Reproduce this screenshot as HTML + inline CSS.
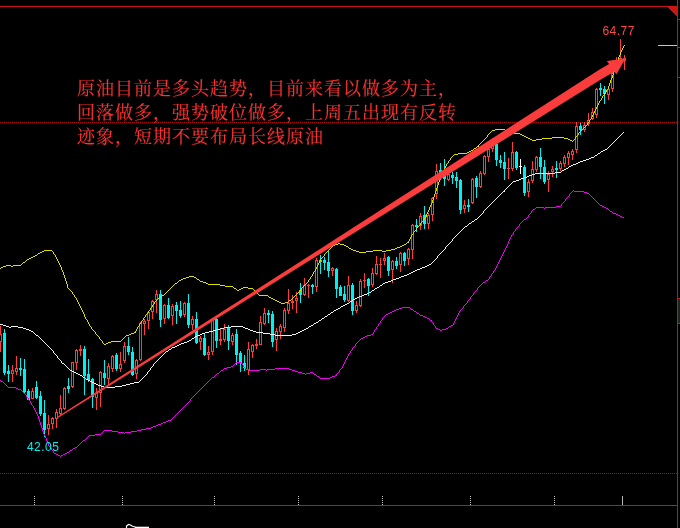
<!DOCTYPE html>
<html lang="zh-CN">
<head>
<meta charset="utf-8">
<title>原油走势</title>
<style>
html,body{margin:0;padding:0;background:#000;}
body{width:680px;height:528px;overflow:hidden;position:relative;}
svg{position:absolute;left:0;top:0;display:block;}
.note{position:absolute;left:77px;top:77px;margin:0;color:#ff3030;
  font-family:"Liberation Serif","Noto Serif CJK SC",serif;font-size:18px;line-height:24px;
  letter-spacing:1px;white-space:nowrap;font-weight:400;-webkit-text-stroke:0.15px #ff3030;}
.lbl{position:absolute;margin:0;font-family:"Liberation Sans",sans-serif;font-size:12px;line-height:12px;white-space:nowrap;letter-spacing:0.45px;}
</style>
</head>
<body>
<svg width="680" height="528" viewBox="0 0 680 528">
<rect x="0" y="0" width="680" height="528" fill="#000"/>
<g shape-rendering="crispEdges">
<!-- frame -->
<rect x="0" y="6" width="678" height="1" fill="#cc1410"/>
<rect x="677" y="0" width="1" height="528" fill="#cc1410"/>
<rect x="0" y="505" width="678" height="1" fill="#cc1410"/>
<polygon points="667.5,7 678,7 678,17" fill="#cc1410"/>
<rect x="677" y="19" width="3" height="1" fill="#cc1410"/>
<rect x="677" y="47" width="3" height="1" fill="#cc1410"/>
<rect x="677" y="77" width="3" height="1" fill="#cc1410"/>
<rect x="677" y="298" width="3" height="1" fill="#cc1410"/>
<rect x="677" y="323" width="3" height="1" fill="#cc1410"/>
<rect x="678" y="299" width="2" height="24" fill="#1e2420"/>
<!-- dotted guides -->
<line x1="0" y1="122.5" x2="677" y2="122.5" stroke="#aa0c0c" stroke-width="1" stroke-dasharray="1 1"/>
<line x1="0" y1="473.5" x2="677" y2="473.5" stroke="#aa0c0c" stroke-width="1" stroke-dasharray="1 1"/>
<rect x="658" y="45" width="19" height="1" fill="#dede00"/>
<rect x="34" y="496" width="1" height="1" fill="#c0c0c0"/>
<rect x="34" y="498" width="1" height="1" fill="#c0c0c0"/>
<rect x="34" y="500" width="1" height="1" fill="#c0c0c0"/>
<rect x="34" y="502" width="1" height="1" fill="#c0c0c0"/>
<rect x="34" y="504" width="1" height="1" fill="#c0c0c0"/>
<rect x="122" y="496" width="1" height="1" fill="#c0c0c0"/>
<rect x="122" y="498" width="1" height="1" fill="#c0c0c0"/>
<rect x="122" y="500" width="1" height="1" fill="#c0c0c0"/>
<rect x="122" y="502" width="1" height="1" fill="#c0c0c0"/>
<rect x="122" y="504" width="1" height="1" fill="#c0c0c0"/>
<rect x="214" y="496" width="1" height="1" fill="#c0c0c0"/>
<rect x="214" y="498" width="1" height="1" fill="#c0c0c0"/>
<rect x="214" y="500" width="1" height="1" fill="#c0c0c0"/>
<rect x="214" y="502" width="1" height="1" fill="#c0c0c0"/>
<rect x="214" y="504" width="1" height="1" fill="#c0c0c0"/>
<rect x="298" y="496" width="1" height="1" fill="#c0c0c0"/>
<rect x="298" y="498" width="1" height="1" fill="#c0c0c0"/>
<rect x="298" y="500" width="1" height="1" fill="#c0c0c0"/>
<rect x="298" y="502" width="1" height="1" fill="#c0c0c0"/>
<rect x="298" y="504" width="1" height="1" fill="#c0c0c0"/>
<rect x="382" y="496" width="1" height="1" fill="#c0c0c0"/>
<rect x="382" y="498" width="1" height="1" fill="#c0c0c0"/>
<rect x="382" y="500" width="1" height="1" fill="#c0c0c0"/>
<rect x="382" y="502" width="1" height="1" fill="#c0c0c0"/>
<rect x="382" y="504" width="1" height="1" fill="#c0c0c0"/>
<rect x="470" y="496" width="1" height="1" fill="#c0c0c0"/>
<rect x="470" y="498" width="1" height="1" fill="#c0c0c0"/>
<rect x="470" y="500" width="1" height="1" fill="#c0c0c0"/>
<rect x="470" y="502" width="1" height="1" fill="#c0c0c0"/>
<rect x="470" y="504" width="1" height="1" fill="#c0c0c0"/>
<rect x="554" y="496" width="1" height="1" fill="#c0c0c0"/>
<rect x="554" y="498" width="1" height="1" fill="#c0c0c0"/>
<rect x="554" y="500" width="1" height="1" fill="#c0c0c0"/>
<rect x="554" y="502" width="1" height="1" fill="#c0c0c0"/>
<rect x="554" y="504" width="1" height="1" fill="#c0c0c0"/>
<rect x="622" y="496" width="1" height="9" fill="#b4b4b4"/>
</g>
<g shape-rendering="crispEdges">
<rect x="0" y="326" width="1" height="8" fill="#ff3c3c"/>
<rect x="0" y="342" width="1" height="10" fill="#ff3c3c"/>
<rect x="-0.5" y="334.5" width="2" height="7" fill="#000" stroke="#ff3c3c" stroke-width="1"/>
<rect x="4" y="329" width="1" height="46" fill="#00f0f0"/>
<rect x="3" y="333" width="3" height="40" fill="#00f0f0"/>
<rect x="8" y="365" width="1" height="17" fill="#00f0f0"/>
<rect x="7" y="371" width="3" height="3" fill="#00f0f0"/>
<rect x="12" y="365" width="1" height="5" fill="#ff3c3c"/>
<rect x="12" y="374" width="1" height="8" fill="#ff3c3c"/>
<rect x="11.5" y="370.5" width="2" height="3" fill="#000" stroke="#ff3c3c" stroke-width="1"/>
<rect x="16" y="356" width="1" height="12" fill="#ff3c3c"/>
<rect x="16" y="372" width="1" height="3" fill="#ff3c3c"/>
<rect x="15.5" y="368.5" width="2" height="3" fill="#000" stroke="#ff3c3c" stroke-width="1"/>
<rect x="20" y="358" width="1" height="18" fill="#00f0f0"/>
<rect x="19" y="368" width="3" height="2" fill="#00f0f0"/>
<rect x="24" y="359" width="1" height="35" fill="#00f0f0"/>
<rect x="23" y="369" width="3" height="23" fill="#00f0f0"/>
<rect x="28" y="389" width="1" height="11" fill="#00f0f0"/>
<rect x="27" y="391" width="3" height="9" fill="#00f0f0"/>
<rect x="32" y="388" width="1" height="3" fill="#ff3c3c"/>
<rect x="31.5" y="391.5" width="2" height="7" fill="#000" stroke="#ff3c3c" stroke-width="1"/>
<rect x="36" y="381" width="1" height="18" fill="#00f0f0"/>
<rect x="35" y="387" width="3" height="11" fill="#00f0f0"/>
<rect x="40" y="391" width="1" height="25" fill="#00f0f0"/>
<rect x="39" y="396" width="3" height="18" fill="#00f0f0"/>
<rect x="44" y="400" width="1" height="37" fill="#00f0f0"/>
<rect x="43" y="413" width="3" height="17" fill="#00f0f0"/>
<rect x="48" y="415" width="1" height="9" fill="#ff3c3c"/>
<rect x="48" y="429" width="1" height="6" fill="#ff3c3c"/>
<rect x="47.5" y="424.5" width="2" height="4" fill="#000" stroke="#ff3c3c" stroke-width="1"/>
<rect x="52" y="417" width="1" height="1" fill="#ff3c3c"/>
<rect x="52" y="424" width="1" height="5" fill="#ff3c3c"/>
<rect x="51.5" y="418.5" width="2" height="5" fill="#000" stroke="#ff3c3c" stroke-width="1"/>
<rect x="56" y="409" width="1" height="3" fill="#ff3c3c"/>
<rect x="56" y="419" width="1" height="9" fill="#ff3c3c"/>
<rect x="55.5" y="412.5" width="2" height="6" fill="#000" stroke="#ff3c3c" stroke-width="1"/>
<rect x="60" y="395" width="1" height="13" fill="#ff3c3c"/>
<rect x="60" y="414" width="1" height="1" fill="#ff3c3c"/>
<rect x="59.5" y="408.5" width="2" height="5" fill="#000" stroke="#ff3c3c" stroke-width="1"/>
<rect x="64" y="387" width="1" height="1" fill="#ff3c3c"/>
<rect x="64" y="409" width="1" height="1" fill="#ff3c3c"/>
<rect x="63.5" y="388.5" width="2" height="20" fill="#000" stroke="#ff3c3c" stroke-width="1"/>
<rect x="68" y="378" width="1" height="15" fill="#00f0f0"/>
<rect x="67" y="386" width="3" height="3" fill="#00f0f0"/>
<rect x="72" y="387" width="1" height="1" fill="#ff3c3c"/>
<rect x="71.5" y="362.5" width="2" height="24" fill="#000" stroke="#ff3c3c" stroke-width="1"/>
<rect x="76" y="349" width="1" height="1" fill="#ff3c3c"/>
<rect x="76" y="363" width="1" height="7" fill="#ff3c3c"/>
<rect x="75.5" y="350.5" width="2" height="12" fill="#000" stroke="#ff3c3c" stroke-width="1"/>
<rect x="80" y="345" width="1" height="4" fill="#ff3c3c"/>
<rect x="80" y="351" width="1" height="5" fill="#ff3c3c"/>
<rect x="79" y="349" width="3" height="2" fill="#ff3c3c"/>
<rect x="84" y="346" width="1" height="49" fill="#00f0f0"/>
<rect x="83" y="349" width="3" height="27" fill="#00f0f0"/>
<rect x="88" y="359" width="1" height="23" fill="#00f0f0"/>
<rect x="87" y="374" width="3" height="6" fill="#00f0f0"/>
<rect x="92" y="378" width="1" height="30" fill="#00f0f0"/>
<rect x="91" y="379" width="3" height="18" fill="#00f0f0"/>
<rect x="96" y="388" width="1" height="5" fill="#ff3c3c"/>
<rect x="96" y="398" width="1" height="12" fill="#ff3c3c"/>
<rect x="95.5" y="393.5" width="2" height="4" fill="#000" stroke="#ff3c3c" stroke-width="1"/>
<rect x="100" y="371" width="1" height="1" fill="#ff3c3c"/>
<rect x="100" y="393" width="1" height="14" fill="#ff3c3c"/>
<rect x="99.5" y="372.5" width="2" height="20" fill="#000" stroke="#ff3c3c" stroke-width="1"/>
<rect x="104" y="360" width="1" height="25" fill="#00f0f0"/>
<rect x="103" y="373" width="3" height="5" fill="#00f0f0"/>
<rect x="108" y="363" width="1" height="3" fill="#ff3c3c"/>
<rect x="108" y="379" width="1" height="6" fill="#ff3c3c"/>
<rect x="107.5" y="366.5" width="2" height="12" fill="#000" stroke="#ff3c3c" stroke-width="1"/>
<rect x="112" y="355" width="1" height="1" fill="#ff3c3c"/>
<rect x="112" y="369" width="1" height="3" fill="#ff3c3c"/>
<rect x="111.5" y="356.5" width="2" height="12" fill="#000" stroke="#ff3c3c" stroke-width="1"/>
<rect x="116" y="353" width="1" height="18" fill="#00f0f0"/>
<rect x="115" y="355" width="3" height="14" fill="#00f0f0"/>
<rect x="120" y="352" width="1" height="12" fill="#ff3c3c"/>
<rect x="120" y="369" width="1" height="3" fill="#ff3c3c"/>
<rect x="119.5" y="364.5" width="2" height="4" fill="#000" stroke="#ff3c3c" stroke-width="1"/>
<rect x="124" y="342" width="1" height="4" fill="#ff3c3c"/>
<rect x="124" y="361" width="1" height="2" fill="#ff3c3c"/>
<rect x="123.5" y="346.5" width="2" height="14" fill="#000" stroke="#ff3c3c" stroke-width="1"/>
<rect x="128" y="337" width="1" height="18" fill="#00f0f0"/>
<rect x="127" y="346" width="3" height="6" fill="#00f0f0"/>
<rect x="132" y="347" width="1" height="29" fill="#00f0f0"/>
<rect x="131" y="352" width="3" height="23" fill="#00f0f0"/>
<rect x="136" y="359" width="1" height="1" fill="#ff3c3c"/>
<rect x="136" y="374" width="1" height="5" fill="#ff3c3c"/>
<rect x="135.5" y="360.5" width="2" height="13" fill="#000" stroke="#ff3c3c" stroke-width="1"/>
<rect x="140" y="322" width="1" height="1" fill="#ff3c3c"/>
<rect x="140" y="360" width="1" height="1" fill="#ff3c3c"/>
<rect x="139.5" y="323.5" width="2" height="36" fill="#000" stroke="#ff3c3c" stroke-width="1"/>
<rect x="144" y="319" width="1" height="2" fill="#ff3c3c"/>
<rect x="144" y="324" width="1" height="11" fill="#ff3c3c"/>
<rect x="143.5" y="321.5" width="2" height="2" fill="#000" stroke="#ff3c3c" stroke-width="1"/>
<rect x="148" y="311" width="1" height="1" fill="#ff3c3c"/>
<rect x="148" y="321" width="1" height="8" fill="#ff3c3c"/>
<rect x="147.5" y="312.5" width="2" height="8" fill="#000" stroke="#ff3c3c" stroke-width="1"/>
<rect x="152" y="300" width="1" height="1" fill="#ff3c3c"/>
<rect x="152" y="312" width="1" height="7" fill="#ff3c3c"/>
<rect x="151.5" y="301.5" width="2" height="10" fill="#000" stroke="#ff3c3c" stroke-width="1"/>
<rect x="156" y="290" width="1" height="4" fill="#ff3c3c"/>
<rect x="156" y="300" width="1" height="13" fill="#ff3c3c"/>
<rect x="155.5" y="294.5" width="2" height="5" fill="#000" stroke="#ff3c3c" stroke-width="1"/>
<rect x="160" y="290" width="1" height="37" fill="#00f0f0"/>
<rect x="159" y="294" width="3" height="26" fill="#00f0f0"/>
<rect x="164" y="304" width="1" height="1" fill="#ff3c3c"/>
<rect x="164" y="319" width="1" height="5" fill="#ff3c3c"/>
<rect x="163.5" y="305.5" width="2" height="13" fill="#000" stroke="#ff3c3c" stroke-width="1"/>
<rect x="168" y="298" width="1" height="21" fill="#00f0f0"/>
<rect x="167" y="305" width="3" height="13" fill="#00f0f0"/>
<rect x="172" y="304" width="1" height="2" fill="#ff3c3c"/>
<rect x="172" y="316" width="1" height="9" fill="#ff3c3c"/>
<rect x="171.5" y="306.5" width="2" height="9" fill="#000" stroke="#ff3c3c" stroke-width="1"/>
<rect x="176" y="302" width="1" height="22" fill="#00f0f0"/>
<rect x="175" y="305" width="3" height="6" fill="#00f0f0"/>
<rect x="180" y="301" width="1" height="17" fill="#00f0f0"/>
<rect x="179" y="310" width="3" height="6" fill="#00f0f0"/>
<rect x="184" y="302" width="1" height="1" fill="#ff3c3c"/>
<rect x="184" y="315" width="1" height="2" fill="#ff3c3c"/>
<rect x="183.5" y="303.5" width="2" height="11" fill="#000" stroke="#ff3c3c" stroke-width="1"/>
<rect x="188" y="294" width="1" height="34" fill="#00f0f0"/>
<rect x="187" y="303" width="3" height="22" fill="#00f0f0"/>
<rect x="192" y="316" width="1" height="3" fill="#ff3c3c"/>
<rect x="192" y="325" width="1" height="5" fill="#ff3c3c"/>
<rect x="191.5" y="319.5" width="2" height="5" fill="#000" stroke="#ff3c3c" stroke-width="1"/>
<rect x="196" y="312" width="1" height="32" fill="#00f0f0"/>
<rect x="195" y="319" width="3" height="24" fill="#00f0f0"/>
<rect x="200" y="336" width="1" height="2" fill="#ff3c3c"/>
<rect x="200" y="342" width="1" height="8" fill="#ff3c3c"/>
<rect x="199.5" y="338.5" width="2" height="3" fill="#000" stroke="#ff3c3c" stroke-width="1"/>
<rect x="204" y="334" width="1" height="22" fill="#00f0f0"/>
<rect x="203" y="338" width="3" height="17" fill="#00f0f0"/>
<rect x="208" y="346" width="1" height="6" fill="#ff3c3c"/>
<rect x="208" y="355" width="1" height="5" fill="#ff3c3c"/>
<rect x="207.5" y="352.5" width="2" height="2" fill="#000" stroke="#ff3c3c" stroke-width="1"/>
<rect x="212" y="318" width="1" height="1" fill="#ff3c3c"/>
<rect x="212" y="352" width="1" height="3" fill="#ff3c3c"/>
<rect x="211.5" y="319.5" width="2" height="32" fill="#000" stroke="#ff3c3c" stroke-width="1"/>
<rect x="216" y="318" width="1" height="30" fill="#00f0f0"/>
<rect x="215" y="319" width="3" height="22" fill="#00f0f0"/>
<rect x="220" y="329" width="1" height="10" fill="#ff3c3c"/>
<rect x="220" y="341" width="1" height="4" fill="#ff3c3c"/>
<rect x="219" y="339" width="3" height="2" fill="#ff3c3c"/>
<rect x="224" y="324" width="1" height="5" fill="#ff3c3c"/>
<rect x="224" y="340" width="1" height="2" fill="#ff3c3c"/>
<rect x="223.5" y="329.5" width="2" height="10" fill="#000" stroke="#ff3c3c" stroke-width="1"/>
<rect x="228" y="325" width="1" height="25" fill="#00f0f0"/>
<rect x="227" y="328" width="3" height="13" fill="#00f0f0"/>
<rect x="232" y="333" width="1" height="2" fill="#ff3c3c"/>
<rect x="232" y="342" width="1" height="3" fill="#ff3c3c"/>
<rect x="231.5" y="335.5" width="2" height="6" fill="#000" stroke="#ff3c3c" stroke-width="1"/>
<rect x="236" y="329" width="1" height="36" fill="#00f0f0"/>
<rect x="235" y="334" width="3" height="21" fill="#00f0f0"/>
<rect x="240" y="351" width="1" height="21" fill="#00f0f0"/>
<rect x="239" y="353" width="3" height="10" fill="#00f0f0"/>
<rect x="244" y="355" width="1" height="16" fill="#00f0f0"/>
<rect x="243" y="363" width="3" height="5" fill="#00f0f0"/>
<rect x="248" y="342" width="1" height="7" fill="#ff3c3c"/>
<rect x="248" y="370" width="1" height="5" fill="#ff3c3c"/>
<rect x="247.5" y="349.5" width="2" height="20" fill="#000" stroke="#ff3c3c" stroke-width="1"/>
<rect x="252" y="344" width="1" height="1" fill="#ff3c3c"/>
<rect x="252" y="352" width="1" height="6" fill="#ff3c3c"/>
<rect x="251.5" y="345.5" width="2" height="6" fill="#000" stroke="#ff3c3c" stroke-width="1"/>
<rect x="256" y="339" width="1" height="5" fill="#ff3c3c"/>
<rect x="256" y="346" width="1" height="3" fill="#ff3c3c"/>
<rect x="255" y="344" width="3" height="2" fill="#ff3c3c"/>
<rect x="260" y="316" width="1" height="6" fill="#ff3c3c"/>
<rect x="259.5" y="322.5" width="2" height="22" fill="#000" stroke="#ff3c3c" stroke-width="1"/>
<rect x="264" y="308" width="1" height="5" fill="#ff3c3c"/>
<rect x="264" y="324" width="1" height="1" fill="#ff3c3c"/>
<rect x="263.5" y="313.5" width="2" height="10" fill="#000" stroke="#ff3c3c" stroke-width="1"/>
<rect x="268" y="310" width="1" height="13" fill="#00f0f0"/>
<rect x="267" y="313" width="3" height="2" fill="#00f0f0"/>
<rect x="272" y="311" width="1" height="36" fill="#00f0f0"/>
<rect x="271" y="314" width="3" height="28" fill="#00f0f0"/>
<rect x="276" y="328" width="1" height="3" fill="#ff3c3c"/>
<rect x="276" y="340" width="1" height="11" fill="#ff3c3c"/>
<rect x="275.5" y="331.5" width="2" height="8" fill="#000" stroke="#ff3c3c" stroke-width="1"/>
<rect x="280" y="324" width="1" height="2" fill="#ff3c3c"/>
<rect x="280" y="332" width="1" height="7" fill="#ff3c3c"/>
<rect x="279.5" y="326.5" width="2" height="5" fill="#000" stroke="#ff3c3c" stroke-width="1"/>
<rect x="284" y="308" width="1" height="2" fill="#ff3c3c"/>
<rect x="284" y="328" width="1" height="4" fill="#ff3c3c"/>
<rect x="283.5" y="310.5" width="2" height="17" fill="#000" stroke="#ff3c3c" stroke-width="1"/>
<rect x="288" y="289" width="1" height="14" fill="#ff3c3c"/>
<rect x="288" y="311" width="1" height="3" fill="#ff3c3c"/>
<rect x="287.5" y="303.5" width="2" height="7" fill="#000" stroke="#ff3c3c" stroke-width="1"/>
<rect x="292" y="295" width="1" height="6" fill="#ff3c3c"/>
<rect x="292" y="303" width="1" height="6" fill="#ff3c3c"/>
<rect x="291" y="301" width="3" height="2" fill="#ff3c3c"/>
<rect x="296" y="292" width="1" height="6" fill="#ff3c3c"/>
<rect x="296" y="301" width="1" height="12" fill="#ff3c3c"/>
<rect x="295.5" y="298.5" width="2" height="2" fill="#000" stroke="#ff3c3c" stroke-width="1"/>
<rect x="300" y="283" width="1" height="20" fill="#00f0f0"/>
<rect x="299" y="290" width="3" height="5" fill="#00f0f0"/>
<rect x="304" y="278" width="1" height="7" fill="#ff3c3c"/>
<rect x="304" y="295" width="1" height="1" fill="#ff3c3c"/>
<rect x="303.5" y="285.5" width="2" height="9" fill="#000" stroke="#ff3c3c" stroke-width="1"/>
<rect x="308" y="284" width="1" height="1" fill="#ff3c3c"/>
<rect x="308" y="286" width="1" height="12" fill="#ff3c3c"/>
<rect x="307" y="285" width="3" height="1" fill="#ff3c3c"/>
<rect x="312" y="284" width="1" height="10" fill="#00f0f0"/>
<rect x="311" y="285" width="3" height="2" fill="#00f0f0"/>
<rect x="316" y="258" width="1" height="2" fill="#ff3c3c"/>
<rect x="316" y="287" width="1" height="5" fill="#ff3c3c"/>
<rect x="315.5" y="260.5" width="2" height="26" fill="#000" stroke="#ff3c3c" stroke-width="1"/>
<rect x="320" y="255" width="1" height="19" fill="#00f0f0"/>
<rect x="319" y="260" width="3" height="2" fill="#00f0f0"/>
<rect x="324" y="257" width="1" height="13" fill="#00f0f0"/>
<rect x="323" y="260" width="3" height="3" fill="#00f0f0"/>
<rect x="328" y="250" width="1" height="27" fill="#00f0f0"/>
<rect x="327" y="262" width="3" height="9" fill="#00f0f0"/>
<rect x="332" y="267" width="1" height="1" fill="#ff3c3c"/>
<rect x="332" y="271" width="1" height="5" fill="#ff3c3c"/>
<rect x="331.5" y="268.5" width="2" height="2" fill="#000" stroke="#ff3c3c" stroke-width="1"/>
<rect x="336" y="268" width="1" height="30" fill="#00f0f0"/>
<rect x="335" y="269" width="3" height="20" fill="#00f0f0"/>
<rect x="340" y="285" width="1" height="11" fill="#00f0f0"/>
<rect x="339" y="287" width="3" height="9" fill="#00f0f0"/>
<rect x="344" y="286" width="1" height="16" fill="#00f0f0"/>
<rect x="343" y="294" width="3" height="6" fill="#00f0f0"/>
<rect x="348" y="276" width="1" height="9" fill="#ff3c3c"/>
<rect x="348" y="301" width="1" height="1" fill="#ff3c3c"/>
<rect x="347.5" y="285.5" width="2" height="15" fill="#000" stroke="#ff3c3c" stroke-width="1"/>
<rect x="352" y="283" width="1" height="32" fill="#00f0f0"/>
<rect x="351" y="285" width="3" height="26" fill="#00f0f0"/>
<rect x="356" y="301" width="1" height="4" fill="#ff3c3c"/>
<rect x="356" y="311" width="1" height="2" fill="#ff3c3c"/>
<rect x="355.5" y="305.5" width="2" height="5" fill="#000" stroke="#ff3c3c" stroke-width="1"/>
<rect x="360" y="279" width="1" height="2" fill="#ff3c3c"/>
<rect x="360" y="306" width="1" height="1" fill="#ff3c3c"/>
<rect x="359.5" y="281.5" width="2" height="24" fill="#000" stroke="#ff3c3c" stroke-width="1"/>
<rect x="364" y="273" width="1" height="7" fill="#ff3c3c"/>
<rect x="364" y="281" width="1" height="7" fill="#ff3c3c"/>
<rect x="363" y="280" width="3" height="1" fill="#ff3c3c"/>
<rect x="368" y="278" width="1" height="18" fill="#00f0f0"/>
<rect x="367" y="279" width="3" height="7" fill="#00f0f0"/>
<rect x="372" y="268" width="1" height="5" fill="#ff3c3c"/>
<rect x="372" y="285" width="1" height="2" fill="#ff3c3c"/>
<rect x="371.5" y="273.5" width="2" height="11" fill="#000" stroke="#ff3c3c" stroke-width="1"/>
<rect x="376" y="256" width="1" height="8" fill="#ff3c3c"/>
<rect x="376" y="274" width="1" height="1" fill="#ff3c3c"/>
<rect x="375.5" y="264.5" width="2" height="9" fill="#000" stroke="#ff3c3c" stroke-width="1"/>
<rect x="380" y="258" width="1" height="6" fill="#ff3c3c"/>
<rect x="380" y="265" width="1" height="13" fill="#ff3c3c"/>
<rect x="379" y="264" width="3" height="1" fill="#ff3c3c"/>
<rect x="384" y="253" width="1" height="5" fill="#ff3c3c"/>
<rect x="384" y="261" width="1" height="4" fill="#ff3c3c"/>
<rect x="383.5" y="258.5" width="2" height="2" fill="#000" stroke="#ff3c3c" stroke-width="1"/>
<rect x="388" y="256" width="1" height="20" fill="#00f0f0"/>
<rect x="387" y="257" width="3" height="14" fill="#00f0f0"/>
<rect x="392" y="260" width="1" height="1" fill="#ff3c3c"/>
<rect x="392" y="270" width="1" height="13" fill="#ff3c3c"/>
<rect x="391.5" y="261.5" width="2" height="8" fill="#000" stroke="#ff3c3c" stroke-width="1"/>
<rect x="396" y="257" width="1" height="12" fill="#00f0f0"/>
<rect x="395" y="261" width="3" height="5" fill="#00f0f0"/>
<rect x="400" y="252" width="1" height="1" fill="#ff3c3c"/>
<rect x="400" y="265" width="1" height="7" fill="#ff3c3c"/>
<rect x="399.5" y="253.5" width="2" height="11" fill="#000" stroke="#ff3c3c" stroke-width="1"/>
<rect x="404" y="252" width="1" height="14" fill="#00f0f0"/>
<rect x="403" y="253" width="3" height="8" fill="#00f0f0"/>
<rect x="408" y="248" width="1" height="1" fill="#ff3c3c"/>
<rect x="408" y="259" width="1" height="6" fill="#ff3c3c"/>
<rect x="407.5" y="249.5" width="2" height="9" fill="#000" stroke="#ff3c3c" stroke-width="1"/>
<rect x="412" y="224" width="1" height="1" fill="#ff3c3c"/>
<rect x="412" y="250" width="1" height="9" fill="#ff3c3c"/>
<rect x="411.5" y="225.5" width="2" height="24" fill="#000" stroke="#ff3c3c" stroke-width="1"/>
<rect x="416" y="219" width="1" height="13" fill="#00f0f0"/>
<rect x="415" y="225" width="3" height="2" fill="#00f0f0"/>
<rect x="420" y="213" width="1" height="3" fill="#ff3c3c"/>
<rect x="420" y="226" width="1" height="4" fill="#ff3c3c"/>
<rect x="419.5" y="216.5" width="2" height="9" fill="#000" stroke="#ff3c3c" stroke-width="1"/>
<rect x="424" y="206" width="1" height="23" fill="#00f0f0"/>
<rect x="423" y="215" width="3" height="9" fill="#00f0f0"/>
<rect x="428" y="213" width="1" height="2" fill="#ff3c3c"/>
<rect x="428" y="224" width="1" height="5" fill="#ff3c3c"/>
<rect x="427.5" y="215.5" width="2" height="8" fill="#000" stroke="#ff3c3c" stroke-width="1"/>
<rect x="432" y="197" width="1" height="1" fill="#ff3c3c"/>
<rect x="432" y="215" width="1" height="6" fill="#ff3c3c"/>
<rect x="431.5" y="198.5" width="2" height="16" fill="#000" stroke="#ff3c3c" stroke-width="1"/>
<rect x="436" y="164" width="1" height="7" fill="#ff3c3c"/>
<rect x="436" y="194" width="1" height="5" fill="#ff3c3c"/>
<rect x="435.5" y="171.5" width="2" height="22" fill="#000" stroke="#ff3c3c" stroke-width="1"/>
<rect x="440" y="163" width="1" height="17" fill="#00f0f0"/>
<rect x="439" y="170" width="3" height="3" fill="#00f0f0"/>
<rect x="444" y="159" width="1" height="27" fill="#00f0f0"/>
<rect x="443" y="170" width="3" height="9" fill="#00f0f0"/>
<rect x="448" y="172" width="1" height="2" fill="#ff3c3c"/>
<rect x="448" y="180" width="1" height="1" fill="#ff3c3c"/>
<rect x="447.5" y="174.5" width="2" height="5" fill="#000" stroke="#ff3c3c" stroke-width="1"/>
<rect x="452" y="172" width="1" height="12" fill="#00f0f0"/>
<rect x="451" y="175" width="3" height="3" fill="#00f0f0"/>
<rect x="456" y="172" width="1" height="16" fill="#00f0f0"/>
<rect x="455" y="177" width="3" height="4" fill="#00f0f0"/>
<rect x="460" y="179" width="1" height="35" fill="#00f0f0"/>
<rect x="459" y="180" width="3" height="30" fill="#00f0f0"/>
<rect x="464" y="200" width="1" height="5" fill="#ff3c3c"/>
<rect x="464" y="209" width="1" height="4" fill="#ff3c3c"/>
<rect x="463.5" y="205.5" width="2" height="3" fill="#000" stroke="#ff3c3c" stroke-width="1"/>
<rect x="468" y="199" width="1" height="13" fill="#00f0f0"/>
<rect x="467" y="205" width="3" height="2" fill="#00f0f0"/>
<rect x="472" y="178" width="1" height="1" fill="#ff3c3c"/>
<rect x="472" y="203" width="1" height="1" fill="#ff3c3c"/>
<rect x="471.5" y="179.5" width="2" height="23" fill="#000" stroke="#ff3c3c" stroke-width="1"/>
<rect x="476" y="176" width="1" height="22" fill="#00f0f0"/>
<rect x="475" y="178" width="3" height="9" fill="#00f0f0"/>
<rect x="480" y="171" width="1" height="2" fill="#ff3c3c"/>
<rect x="480" y="187" width="1" height="1" fill="#ff3c3c"/>
<rect x="479.5" y="173.5" width="2" height="13" fill="#000" stroke="#ff3c3c" stroke-width="1"/>
<rect x="484" y="155" width="1" height="1" fill="#ff3c3c"/>
<rect x="484" y="174" width="1" height="1" fill="#ff3c3c"/>
<rect x="483.5" y="156.5" width="2" height="17" fill="#000" stroke="#ff3c3c" stroke-width="1"/>
<rect x="488" y="147" width="1" height="2" fill="#ff3c3c"/>
<rect x="488" y="157" width="1" height="5" fill="#ff3c3c"/>
<rect x="487.5" y="149.5" width="2" height="7" fill="#000" stroke="#ff3c3c" stroke-width="1"/>
<rect x="492" y="138" width="1" height="2" fill="#ff3c3c"/>
<rect x="492" y="149" width="1" height="3" fill="#ff3c3c"/>
<rect x="491.5" y="140.5" width="2" height="8" fill="#000" stroke="#ff3c3c" stroke-width="1"/>
<rect x="496" y="140" width="1" height="26" fill="#00f0f0"/>
<rect x="495" y="144" width="3" height="16" fill="#00f0f0"/>
<rect x="500" y="155" width="1" height="13" fill="#00f0f0"/>
<rect x="499" y="160" width="3" height="3" fill="#00f0f0"/>
<rect x="504" y="152" width="1" height="28" fill="#00f0f0"/>
<rect x="503" y="162" width="3" height="7" fill="#00f0f0"/>
<rect x="508" y="158" width="1" height="10" fill="#ff3c3c"/>
<rect x="508" y="169" width="1" height="10" fill="#ff3c3c"/>
<rect x="507" y="168" width="3" height="1" fill="#ff3c3c"/>
<rect x="512" y="142" width="1" height="10" fill="#ff3c3c"/>
<rect x="512" y="169" width="1" height="2" fill="#ff3c3c"/>
<rect x="511.5" y="152.5" width="2" height="16" fill="#000" stroke="#ff3c3c" stroke-width="1"/>
<rect x="516" y="151" width="1" height="19" fill="#00f0f0"/>
<rect x="515" y="152" width="3" height="16" fill="#00f0f0"/>
<rect x="520" y="159" width="1" height="15" fill="#ffffff"/>
<rect x="519" y="166" width="3" height="1" fill="#ffffff"/>
<rect x="524" y="165" width="1" height="31" fill="#00f0f0"/>
<rect x="523" y="167" width="3" height="26" fill="#00f0f0"/>
<rect x="528" y="179" width="1" height="3" fill="#ff3c3c"/>
<rect x="528" y="192" width="1" height="5" fill="#ff3c3c"/>
<rect x="527.5" y="182.5" width="2" height="9" fill="#000" stroke="#ff3c3c" stroke-width="1"/>
<rect x="532" y="161" width="1" height="8" fill="#ff3c3c"/>
<rect x="532" y="181" width="1" height="2" fill="#ff3c3c"/>
<rect x="531.5" y="169.5" width="2" height="11" fill="#000" stroke="#ff3c3c" stroke-width="1"/>
<rect x="536" y="156" width="1" height="1" fill="#ff3c3c"/>
<rect x="536" y="170" width="1" height="2" fill="#ff3c3c"/>
<rect x="535.5" y="157.5" width="2" height="12" fill="#000" stroke="#ff3c3c" stroke-width="1"/>
<rect x="540" y="148" width="1" height="31" fill="#00f0f0"/>
<rect x="539" y="157" width="3" height="10" fill="#00f0f0"/>
<rect x="544" y="160" width="1" height="24" fill="#00f0f0"/>
<rect x="543" y="167" width="3" height="15" fill="#00f0f0"/>
<rect x="548" y="171" width="1" height="3" fill="#ff3c3c"/>
<rect x="548" y="180" width="1" height="12" fill="#ff3c3c"/>
<rect x="547.5" y="174.5" width="2" height="5" fill="#000" stroke="#ff3c3c" stroke-width="1"/>
<rect x="552" y="166" width="1" height="3" fill="#ff3c3c"/>
<rect x="552" y="172" width="1" height="5" fill="#ff3c3c"/>
<rect x="551.5" y="169.5" width="2" height="2" fill="#000" stroke="#ff3c3c" stroke-width="1"/>
<rect x="556" y="161" width="1" height="17" fill="#00f0f0"/>
<rect x="555" y="168" width="3" height="2" fill="#00f0f0"/>
<rect x="560" y="161" width="1" height="2" fill="#ff3c3c"/>
<rect x="560" y="169" width="1" height="2" fill="#ff3c3c"/>
<rect x="559.5" y="163.5" width="2" height="5" fill="#000" stroke="#ff3c3c" stroke-width="1"/>
<rect x="564" y="155" width="1" height="2" fill="#ff3c3c"/>
<rect x="564" y="164" width="1" height="3" fill="#ff3c3c"/>
<rect x="563.5" y="157.5" width="2" height="6" fill="#000" stroke="#ff3c3c" stroke-width="1"/>
<rect x="568" y="151" width="1" height="2" fill="#ff3c3c"/>
<rect x="568" y="158" width="1" height="7" fill="#ff3c3c"/>
<rect x="567.5" y="153.5" width="2" height="4" fill="#000" stroke="#ff3c3c" stroke-width="1"/>
<rect x="572" y="149" width="1" height="2" fill="#ff3c3c"/>
<rect x="572" y="155" width="1" height="5" fill="#ff3c3c"/>
<rect x="571.5" y="151.5" width="2" height="3" fill="#000" stroke="#ff3c3c" stroke-width="1"/>
<rect x="576" y="122" width="1" height="4" fill="#ff3c3c"/>
<rect x="576" y="150" width="1" height="3" fill="#ff3c3c"/>
<rect x="575.5" y="126.5" width="2" height="23" fill="#000" stroke="#ff3c3c" stroke-width="1"/>
<rect x="580" y="123" width="1" height="12" fill="#00f0f0"/>
<rect x="579" y="126" width="3" height="4" fill="#00f0f0"/>
<rect x="584" y="122" width="1" height="3" fill="#ff3c3c"/>
<rect x="584" y="130" width="1" height="2" fill="#ff3c3c"/>
<rect x="583.5" y="125.5" width="2" height="4" fill="#000" stroke="#ff3c3c" stroke-width="1"/>
<rect x="588" y="113" width="1" height="7" fill="#ff3c3c"/>
<rect x="588" y="124" width="1" height="2" fill="#ff3c3c"/>
<rect x="587.5" y="120.5" width="2" height="3" fill="#000" stroke="#ff3c3c" stroke-width="1"/>
<rect x="592" y="108" width="1" height="4" fill="#ff3c3c"/>
<rect x="592" y="119" width="1" height="1" fill="#ff3c3c"/>
<rect x="591.5" y="112.5" width="2" height="6" fill="#000" stroke="#ff3c3c" stroke-width="1"/>
<rect x="596" y="88" width="1" height="1" fill="#ff3c3c"/>
<rect x="596" y="115" width="1" height="3" fill="#ff3c3c"/>
<rect x="595.5" y="89.5" width="2" height="25" fill="#000" stroke="#ff3c3c" stroke-width="1"/>
<rect x="600" y="83" width="1" height="13" fill="#00f0f0"/>
<rect x="599" y="88" width="3" height="2" fill="#00f0f0"/>
<rect x="604" y="86" width="1" height="18" fill="#00f0f0"/>
<rect x="603" y="89" width="3" height="5" fill="#00f0f0"/>
<rect x="608" y="88" width="1" height="1" fill="#ff3c3c"/>
<rect x="608" y="95" width="1" height="5" fill="#ff3c3c"/>
<rect x="607.5" y="89.5" width="2" height="5" fill="#000" stroke="#ff3c3c" stroke-width="1"/>
<rect x="612" y="71" width="1" height="2" fill="#ff3c3c"/>
<rect x="612" y="89" width="1" height="3" fill="#ff3c3c"/>
<rect x="611.5" y="73.5" width="2" height="15" fill="#000" stroke="#ff3c3c" stroke-width="1"/>
<rect x="616" y="57" width="1" height="5" fill="#ff3c3c"/>
<rect x="616" y="70" width="1" height="2" fill="#ff3c3c"/>
<rect x="615.5" y="62.5" width="2" height="7" fill="#000" stroke="#ff3c3c" stroke-width="1"/>
<rect x="620" y="39" width="1" height="19" fill="#ff3c3c"/>
<rect x="620" y="64" width="1" height="2" fill="#ff3c3c"/>
<rect x="619.5" y="58.5" width="2" height="5" fill="#000" stroke="#ff3c3c" stroke-width="1"/>
<rect x="624" y="55" width="1" height="3" fill="#ff3c3c"/>
<rect x="624" y="61" width="1" height="9" fill="#ff3c3c"/>
<rect x="623.5" y="58.5" width="2" height="2" fill="#000" stroke="#ff3c3c" stroke-width="1"/>
</g>
<path d="M0.5 268V269M1.5 267V268M2.5 267V268M3.5 266V267M4.5 266V267M5.5 266V267M6.5 265V266M7.5 265V266M8.5 265V266M9.5 265V266M10.5 265V266M11.5 266V267M12.5 266V267M13.5 265V266M14.5 265V266M15.5 265V266M16.5 265V266M17.5 265V266M18.5 265V266M19.5 265V266M20.5 265V266M21.5 264V265M22.5 263V264M23.5 262V263M24.5 262V263M25.5 261V262M26.5 260V261M27.5 259V260M28.5 259V260M29.5 258V259M30.5 258V259M31.5 257V258M32.5 257V258M33.5 256V257M34.5 256V257M35.5 255V256M36.5 255V256M37.5 254V255M38.5 253V254M39.5 253V254M40.5 252V253M41.5 252V253M42.5 251V252M43.5 251V252M44.5 250V251M45.5 250V251M46.5 250V251M47.5 250V251M48.5 250V251M49.5 250V251M50.5 250V251M51.5 250V251M52.5 251V252M53.5 252V254M54.5 254V255M55.5 255V257M56.5 257V259M57.5 259V261M58.5 261V263M59.5 263V265M60.5 265V267M61.5 267V270M62.5 270V272M63.5 272V275M64.5 275V278M65.5 278V281M66.5 281V284M67.5 284V288M68.5 288V289M69.5 289V290M70.5 290V291M71.5 291V292M72.5 292V294M73.5 294V295M74.5 295V297M75.5 297V298M76.5 298V300M77.5 300V302M78.5 302V304M79.5 304V306M80.5 306V308M81.5 308V310M82.5 310V312M83.5 312V314M84.5 314V317M85.5 317V319M86.5 319V320M87.5 320V322M88.5 322V324M89.5 324V326M90.5 326V327M91.5 327V329M92.5 329V330M93.5 330V331M94.5 331V332M95.5 332V334M96.5 334V335M97.5 335V336M98.5 336V337M99.5 337V339M100.5 339V340M101.5 340V341M102.5 341V343M103.5 343V344M104.5 344V345M105.5 344V345M106.5 343V344M107.5 343V344M108.5 342V343M109.5 342V343M110.5 342V343M111.5 341V342M112.5 341V342M113.5 341V342M114.5 341V342M115.5 341V342M116.5 341V342M117.5 341V342M118.5 341V342M119.5 341V342M120.5 341V342M121.5 340V341M122.5 339V340M123.5 338V339M124.5 337V338M125.5 336V337M126.5 335V336M127.5 335V336M128.5 335V336M129.5 334V335M130.5 334V335M131.5 333V334M132.5 333V334M133.5 333V334M134.5 332V333M135.5 331V333M136.5 329V331M137.5 327V329M138.5 326V327M139.5 324V326M140.5 323V324M141.5 321V323M142.5 320V321M143.5 318V320M144.5 317V318M145.5 315V317M146.5 314V315M147.5 313V314M148.5 311V313M149.5 310V311M150.5 308V310M151.5 307V308M152.5 305V307M153.5 304V305M154.5 302V304M155.5 301V302M156.5 300V301M157.5 299V300M158.5 298V299M159.5 297V298M160.5 297V298M161.5 296V297M162.5 295V296M163.5 295V296M164.5 294V295M165.5 293V294M166.5 292V293M167.5 291V292M168.5 290V291M169.5 289V290M170.5 288V289M171.5 287V288M172.5 286V287M173.5 285V286M174.5 284V285M175.5 283V284M176.5 283V284M177.5 282V283M178.5 281V282M179.5 280V281M180.5 280V281M181.5 279V280M182.5 279V280M183.5 278V279M184.5 278V279M185.5 278V279M186.5 277V278M187.5 277V278M188.5 277V278M189.5 276V277M190.5 276V277M191.5 276V277M192.5 276V277M193.5 276V277M194.5 277V278M195.5 277V278M196.5 278V279M197.5 279V280M198.5 279V280M199.5 280V281M200.5 281V282M201.5 281V282M202.5 281V282M203.5 282V283M204.5 282V283M205.5 282V283M206.5 283V284M207.5 283V284M208.5 284V285M209.5 284V285M210.5 284V285M211.5 284V285M212.5 284V285M213.5 284V285M214.5 284V285M215.5 284V285M216.5 284V285M217.5 284V285M218.5 284V285M219.5 284V285M220.5 285V286M221.5 285V286M222.5 285V286M223.5 285V286M224.5 285V286M225.5 286V287M226.5 286V287M227.5 286V287M228.5 286V287M229.5 286V287M230.5 286V287M231.5 286V287M232.5 286V287M233.5 287V288M234.5 288V289M235.5 288V289M236.5 289V290M237.5 290V291M238.5 290V291M239.5 289V290M240.5 289V290M241.5 288V289M242.5 288V289M243.5 287V288M244.5 287V288M245.5 287V288M246.5 287V288M247.5 287V288M248.5 288V289M249.5 288V289M250.5 288V289M251.5 288V289M252.5 288V289M253.5 289V290M254.5 290V291M255.5 291V292M256.5 292V293M257.5 293V294M258.5 294V295M259.5 295V296M260.5 295V296M261.5 295V296M262.5 295V296M263.5 295V296M264.5 295V296M265.5 295V296M266.5 295V296M267.5 295V296M268.5 296V297M269.5 297V298M270.5 297V298M271.5 298V299M272.5 298V299M273.5 299V300M274.5 299V300M275.5 300V301M276.5 300V301M277.5 301V302M278.5 301V302M279.5 302V303M280.5 302V303M281.5 303V304M282.5 303V304M283.5 303V304M284.5 303V304M285.5 302V303M286.5 302V303M287.5 302V303M288.5 301V302M289.5 300V301M290.5 300V301M291.5 299V300M292.5 298V299M293.5 297V298M294.5 296V297M295.5 295V296M296.5 294V295M297.5 293V294M298.5 292V293M299.5 291V292M300.5 290V291M301.5 288V290M302.5 287V288M303.5 286V287M304.5 285V286M305.5 284V285M306.5 283V284M307.5 282V283M308.5 280V282M309.5 279V280M310.5 277V279M311.5 276V277M312.5 274V276M313.5 272V274M314.5 271V272M315.5 269V271M316.5 267V269M317.5 265V267M318.5 263V265M319.5 261V263M320.5 259V261M321.5 258V259M322.5 257V258M323.5 256V257M324.5 254V256M325.5 253V254M326.5 252V253M327.5 251V252M328.5 250V251M329.5 249V250M330.5 248V249M331.5 247V248M332.5 246V247M333.5 245V246M334.5 245V246M335.5 244V245M336.5 244V245M337.5 244V245M338.5 243V244M339.5 243V244M340.5 244V245M341.5 244V245M342.5 244V245M343.5 244V245M344.5 245V246M345.5 245V246M346.5 246V247M347.5 246V247M348.5 247V248M349.5 248V249M350.5 248V249M351.5 249V250M352.5 249V250M353.5 250V251M354.5 250V251M355.5 250V251M356.5 251V252M357.5 251V252M358.5 251V252M359.5 252V253M360.5 252V253M361.5 252V253M362.5 252V253M363.5 252V253M364.5 252V253M365.5 252V253M366.5 251V252M367.5 251V252M368.5 251V252M369.5 251V252M370.5 251V252M371.5 251V252M372.5 251V252M373.5 250V251M374.5 250V251M375.5 250V251M376.5 250V251M377.5 250V251M378.5 250V251M379.5 250V251M380.5 250V251M381.5 250V251M382.5 251V252M383.5 251V252M384.5 251V252M385.5 251V252M386.5 250V251M387.5 250V251M388.5 250V251M389.5 250V251M390.5 250V251M391.5 249V250M392.5 249V250M393.5 249V250M394.5 249V250M395.5 248V249M396.5 248V249M397.5 247V248M398.5 247V248M399.5 247V248M400.5 246V247M401.5 246V247M402.5 245V246M403.5 245V246M404.5 244V245M405.5 244V245M406.5 243V244M407.5 242V243M408.5 241V243M409.5 239V241M410.5 237V239M411.5 235V237M412.5 234V235M413.5 232V234M414.5 231V232M415.5 230V231M416.5 228V230M417.5 227V228M418.5 226V227M419.5 225V226M420.5 223V225M421.5 222V223M422.5 221V222M423.5 219V221M424.5 218V219M425.5 217V218M426.5 214V217M427.5 212V214M428.5 210V212M429.5 207V210M430.5 205V207M431.5 203V205M432.5 200V203M433.5 197V200M434.5 194V197M435.5 191V194M436.5 188V191M437.5 185V188M438.5 182V185M439.5 179V182M440.5 176V179M441.5 174V176M442.5 172V174M443.5 170V172M444.5 168V170M445.5 166V168M446.5 164V166M447.5 163V164M448.5 161V163M449.5 160V161M450.5 158V160M451.5 157V158M452.5 156V157M453.5 155V156M454.5 154V155M455.5 154V155M456.5 154V155M457.5 154V155M458.5 153V154M459.5 153V154M460.5 153V154M461.5 153V154M462.5 153V154M463.5 153V154M464.5 153V154M465.5 153V154M466.5 153V154M467.5 152V153M468.5 152V153M469.5 151V152M470.5 151V152M471.5 150V151M472.5 150V151M473.5 149V150M474.5 148V149M475.5 148V149M476.5 147V148M477.5 146V147M478.5 145V147M479.5 144V145M480.5 143V144M481.5 142V143M482.5 141V142M483.5 140V141M484.5 139V140M485.5 138V139M486.5 137V138M487.5 135V137M488.5 134V135M489.5 133V134M490.5 132V133M491.5 131V132M492.5 130V131M493.5 130V131M494.5 130V131M495.5 129V130M496.5 129V130M497.5 129V130M498.5 129V130M499.5 129V130M500.5 129V130M501.5 129V130M502.5 129V130M503.5 129V130M504.5 129V130M505.5 130V131M506.5 130V131M507.5 130V131M508.5 131V132M509.5 131V132M510.5 131V132M511.5 132V133M512.5 132V133M513.5 132V133M514.5 133V134M515.5 133V134M516.5 133V134M517.5 133V134M518.5 133V134M519.5 133V134M520.5 134V135M521.5 134V135M522.5 135V136M523.5 135V136M524.5 136V137M525.5 136V137M526.5 137V138M527.5 137V138M528.5 138V139M529.5 138V139M530.5 139V140M531.5 139V140M532.5 140V141M533.5 140V141M534.5 140V141M535.5 140V141M536.5 139V140M537.5 139V140M538.5 139V140M539.5 139V140M540.5 139V140M541.5 139V140M542.5 138V139M543.5 138V139M544.5 138V139M545.5 138V139M546.5 138V139M547.5 138V139M548.5 138V139M549.5 138V139M550.5 138V139M551.5 138V139M552.5 137V138M553.5 137V138M554.5 137V138M555.5 137V138M556.5 137V138M557.5 137V138M558.5 137V138M559.5 137V138M560.5 137V138M561.5 137V138M562.5 137V138M563.5 137V138M564.5 138V139M565.5 138V139M566.5 138V139M567.5 138V139M568.5 139V140M569.5 139V140M570.5 140V141M571.5 140V141M572.5 141V142M573.5 140V141M574.5 139V140M575.5 137V139M576.5 136V137M577.5 135V136M578.5 133V135M579.5 132V133M580.5 131V132M581.5 130V131M582.5 129V130M583.5 128V129M584.5 127V128M585.5 126V127M586.5 125V126M587.5 123V125M588.5 122V123M589.5 120V122M590.5 119V120M591.5 117V119M592.5 115V117M593.5 113V115M594.5 111V113M595.5 109V111M596.5 107V109M597.5 105V107M598.5 103V105M599.5 101V103M600.5 100V101M601.5 98V100M602.5 96V98M603.5 95V96M604.5 93V95M605.5 92V93M606.5 90V92M607.5 89V90M608.5 86V89M609.5 83V86M610.5 80V83M611.5 78V80M612.5 75V78M613.5 72V75M614.5 69V72M615.5 66V69M616.5 63V66M617.5 60V63M618.5 57V60M619.5 55V57M620.5 52V55M621.5 50V52M622.5 48V50M623.5 46V48M624.5 45V46" fill="none" stroke="#dede00" stroke-width="1" shape-rendering="crispEdges"/>
<path d="M0.5 324V325M1.5 324V325M2.5 324V325M3.5 325V326M4.5 325V326M5.5 325V326M6.5 326V327M7.5 326V327M8.5 326V327M9.5 327V328M10.5 327V328M11.5 326V327M12.5 326V327M13.5 326V327M14.5 326V327M15.5 326V327M16.5 326V327M17.5 326V327M18.5 327V328M19.5 327V328M20.5 327V328M21.5 327V328M22.5 327V328M23.5 328V329M24.5 328V329M25.5 328V329M26.5 329V330M27.5 329V330M28.5 329V330M29.5 330V331M30.5 330V331M31.5 331V332M32.5 331V332M33.5 332V333M34.5 333V334M35.5 334V335M36.5 335V336M37.5 335V336M38.5 336V337M39.5 337V338M40.5 338V339M41.5 339V340M42.5 340V341M43.5 341V342M44.5 342V343M45.5 343V344M46.5 344V345M47.5 345V346M48.5 346V347M49.5 347V348M50.5 348V349M51.5 349V350M52.5 350V351M53.5 351V353M54.5 353V354M55.5 354V355M56.5 355V356M57.5 356V358M58.5 358V359M59.5 359V360M60.5 360V361M61.5 361V363M62.5 363V364M63.5 363V364M64.5 364V365M65.5 365V366M66.5 366V367M67.5 367V368M68.5 368V369M69.5 369V370M70.5 370V371M71.5 370V371M72.5 371V372M73.5 371V372M74.5 372V373M75.5 372V373M76.5 373V374M77.5 373V374M78.5 374V375M79.5 374V375M80.5 375V376M81.5 375V376M82.5 376V377M83.5 377V378M84.5 377V378M85.5 378V379M86.5 379V380M87.5 379V380M88.5 380V381M89.5 380V381M90.5 381V382M91.5 381V382M92.5 382V383M93.5 382V383M94.5 383V384M95.5 383V384M96.5 384V385M97.5 384V385M98.5 385V386M99.5 385V386M100.5 385V386M101.5 386V387M102.5 386V387M103.5 386V387M104.5 387V388M105.5 387V388M106.5 387V388M107.5 387V388M108.5 387V388M109.5 387V388M110.5 387V388M111.5 387V388M112.5 387V388M113.5 387V388M114.5 387V388M115.5 386V387M116.5 386V387M117.5 386V387M118.5 386V387M119.5 386V387M120.5 386V387M121.5 386V387M122.5 385V386M123.5 385V386M124.5 385V386M125.5 385V386M126.5 384V385M127.5 384V385M128.5 384V385M129.5 384V385M130.5 383V384M131.5 383V384M132.5 383V384M133.5 383V384M134.5 382V383M135.5 382V383M136.5 382V383M137.5 382V383M138.5 382V383M139.5 381V382M140.5 380V381M141.5 379V380M142.5 378V379M143.5 377V378M144.5 376V377M145.5 375V376M146.5 374V375M147.5 372V374M148.5 371V372M149.5 370V371M150.5 368V370M151.5 367V368M152.5 366V367M153.5 364V366M154.5 363V364M155.5 362V363M156.5 361V362M157.5 360V361M158.5 359V360M159.5 358V359M160.5 357V358M161.5 356V357M162.5 355V356M163.5 354V355M164.5 353V354M165.5 352V353M166.5 351V352M167.5 351V352M168.5 350V351M169.5 349V350M170.5 349V350M171.5 348V349M172.5 347V348M173.5 347V348M174.5 347V348M175.5 346V347M176.5 346V347M177.5 345V346M178.5 345V346M179.5 344V345M180.5 344V345M181.5 343V344M182.5 343V344M183.5 343V344M184.5 342V343M185.5 342V343M186.5 342V343M187.5 341V342M188.5 341V342M189.5 340V341M190.5 340V341M191.5 339V340M192.5 338V339M193.5 338V339M194.5 337V338M195.5 336V337M196.5 336V337M197.5 335V336M198.5 335V336M199.5 335V336M200.5 334V335M201.5 334V335M202.5 333V334M203.5 333V334M204.5 333V334M205.5 332V333M206.5 332V333M207.5 332V333M208.5 332V333M209.5 331V332M210.5 331V332M211.5 331V332M212.5 331V332M213.5 330V331M214.5 330V331M215.5 330V331M216.5 329V330M217.5 329V330M218.5 329V330M219.5 329V330M220.5 328V329M221.5 328V329M222.5 328V329M223.5 328V329M224.5 327V328M225.5 327V328M226.5 327V328M227.5 327V328M228.5 327V328M229.5 327V328M230.5 327V328M231.5 326V327M232.5 326V327M233.5 326V327M234.5 326V327M235.5 326V327M236.5 326V327M237.5 326V327M238.5 326V327M239.5 326V327M240.5 326V327M241.5 326V327M242.5 326V327M243.5 327V328M244.5 327V328M245.5 328V329M246.5 328V329M247.5 328V329M248.5 329V330M249.5 329V330M250.5 330V331M251.5 330V331M252.5 330V331M253.5 331V332M254.5 331V332M255.5 331V332M256.5 332V333M257.5 332V333M258.5 332V333M259.5 332V333M260.5 332V333M261.5 332V333M262.5 332V333M263.5 333V334M264.5 333V334M265.5 333V334M266.5 333V334M267.5 333V334M268.5 333V334M269.5 333V334M270.5 334V335M271.5 334V335M272.5 334V335M273.5 334V335M274.5 334V335M275.5 335V336M276.5 335V336M277.5 335V336M278.5 335V336M279.5 335V336M280.5 335V336M281.5 335V336M282.5 335V336M283.5 335V336M284.5 335V336M285.5 335V336M286.5 335V336M287.5 335V336M288.5 335V336M289.5 335V336M290.5 335V336M291.5 335V336M292.5 334V335M293.5 334V335M294.5 334V335M295.5 334V335M296.5 333V334M297.5 333V334M298.5 332V333M299.5 332V333M300.5 331V332M301.5 331V332M302.5 330V331M303.5 330V331M304.5 329V330M305.5 329V330M306.5 328V329M307.5 328V329M308.5 327V328M309.5 326V327M310.5 326V327M311.5 325V326M312.5 325V326M313.5 324V325M314.5 323V324M315.5 323V324M316.5 322V323M317.5 322V323M318.5 321V322M319.5 320V321M320.5 320V321M321.5 319V320M322.5 318V319M323.5 318V319M324.5 317V318M325.5 316V317M326.5 316V317M327.5 315V316M328.5 314V315M329.5 314V315M330.5 313V314M331.5 312V313M332.5 312V313M333.5 311V312M334.5 310V311M335.5 310V311M336.5 309V310M337.5 309V310M338.5 308V309M339.5 308V309M340.5 307V308M341.5 306V307M342.5 306V307M343.5 305V306M344.5 305V306M345.5 304V305M346.5 304V305M347.5 303V304M348.5 303V304M349.5 302V303M350.5 301V302M351.5 301V302M352.5 300V301M353.5 299V300M354.5 299V300M355.5 298V299M356.5 298V299M357.5 297V298M358.5 297V298M359.5 296V297M360.5 296V297M361.5 296V297M362.5 295V296M363.5 295V296M364.5 294V295M365.5 294V295M366.5 294V295M367.5 293V294M368.5 293V294M369.5 292V293M370.5 292V293M371.5 291V292M372.5 290V291M373.5 290V291M374.5 289V290M375.5 288V289M376.5 288V289M377.5 287V288M378.5 287V288M379.5 286V287M380.5 285V286M381.5 285V286M382.5 284V285M383.5 283V284M384.5 283V284M385.5 282V283M386.5 282V283M387.5 282V283M388.5 281V282M389.5 281V282M390.5 281V282M391.5 280V281M392.5 280V281M393.5 279V280M394.5 279V280M395.5 279V280M396.5 278V279M397.5 278V279M398.5 278V279M399.5 277V278M400.5 277V278M401.5 276V277M402.5 276V277M403.5 276V277M404.5 275V276M405.5 275V276M406.5 275V276M407.5 274V275M408.5 274V275M409.5 273V274M410.5 273V274M411.5 272V273M412.5 272V273M413.5 271V272M414.5 271V272M415.5 270V271M416.5 270V271M417.5 269V270M418.5 269V270M419.5 269V270M420.5 268V269M421.5 268V269M422.5 267V268M423.5 267V268M424.5 267V268M425.5 266V267M426.5 266V267M427.5 265V266M428.5 265V266M429.5 264V265M430.5 264V265M431.5 263V264M432.5 262V263M433.5 261V262M434.5 260V261M435.5 259V260M436.5 258V259M437.5 256V258M438.5 255V256M439.5 254V255M440.5 253V254M441.5 252V253M442.5 251V252M443.5 250V251M444.5 249V250M445.5 247V249M446.5 246V247M447.5 245V246M448.5 244V245M449.5 243V244M450.5 242V243M451.5 241V242M452.5 239V241M453.5 238V239M454.5 237V238M455.5 236V237M456.5 235V236M457.5 234V235M458.5 233V234M459.5 232V233M460.5 231V232M461.5 230V231M462.5 229V230M463.5 228V229M464.5 227V228M465.5 226V227M466.5 226V227M467.5 225V226M468.5 224V225M469.5 223V224M470.5 223V224M471.5 222V223M472.5 221V222M473.5 221V222M474.5 220V221M475.5 219V220M476.5 219V220M477.5 218V219M478.5 217V218M479.5 216V217M480.5 215V216M481.5 214V215M482.5 213V214M483.5 211V213M484.5 210V211M485.5 209V210M486.5 208V209M487.5 207V208M488.5 206V207M489.5 205V206M490.5 204V205M491.5 203V204M492.5 202V203M493.5 201V202M494.5 200V201M495.5 199V200M496.5 198V199M497.5 197V198M498.5 196V197M499.5 195V196M500.5 194V195M501.5 193V194M502.5 192V193M503.5 191V192M504.5 190V192M505.5 189V190M506.5 188V189M507.5 187V188M508.5 186V187M509.5 185V186M510.5 184V185M511.5 183V184M512.5 182V183M513.5 181V182M514.5 181V182M515.5 181V182M516.5 180V181M517.5 180V181M518.5 180V181M519.5 179V180M520.5 179V180M521.5 178V179M522.5 178V179M523.5 178V179M524.5 177V178M525.5 177V178M526.5 177V178M527.5 176V177M528.5 176V177M529.5 175V176M530.5 175V176M531.5 175V176M532.5 174V175M533.5 174V175M534.5 174V175M535.5 173V174M536.5 173V174M537.5 173V174M538.5 173V174M539.5 173V174M540.5 173V174M541.5 173V174M542.5 173V174M543.5 173V174M544.5 173V174M545.5 173V174M546.5 173V174M547.5 173V174M548.5 173V174M549.5 173V174M550.5 173V174M551.5 173V174M552.5 173V174M553.5 173V174M554.5 173V174M555.5 172V173M556.5 172V173M557.5 172V173M558.5 172V173M559.5 172V173M560.5 172V173M561.5 171V172M562.5 170V171M563.5 170V171M564.5 169V170M565.5 169V170M566.5 168V169M567.5 168V169M568.5 167V168M569.5 166V167M570.5 166V167M571.5 165V166M572.5 165V166M573.5 164V165M574.5 164V165M575.5 164V165M576.5 163V164M577.5 163V164M578.5 162V163M579.5 162V163M580.5 161V162M581.5 161V162M582.5 161V162M583.5 160V161M584.5 160V161M585.5 160V161M586.5 159V160M587.5 159V160M588.5 159V160M589.5 158V159M590.5 158V159M591.5 157V158M592.5 157V158M593.5 157V158M594.5 156V157M595.5 155V156M596.5 155V156M597.5 154V155M598.5 153V154M599.5 153V154M600.5 152V153M601.5 151V152M602.5 151V152M603.5 150V151M604.5 150V151M605.5 149V150M606.5 149V150M607.5 148V149M608.5 147V148M609.5 146V147M610.5 145V146M611.5 144V145M612.5 143V144M613.5 142V143M614.5 141V142M615.5 140V141M616.5 139V140M617.5 138V139M618.5 137V138M619.5 136V137M620.5 135V136M621.5 134V135M622.5 133V134M623.5 132V133" fill="none" stroke="#f0f0f0" stroke-width="1" shape-rendering="crispEdges"/>
<path d="M0.5 380V381M1.5 381V382M2.5 381V382M3.5 382V383M4.5 383V384M5.5 384V385M6.5 385V386M7.5 386V387M8.5 387V388M9.5 387V388M10.5 387V388M11.5 387V388M12.5 387V388M13.5 387V388M14.5 387V388M15.5 387V388M16.5 388V389M17.5 388V389M18.5 389V390M19.5 389V390M20.5 389V390M21.5 390V391M22.5 391V392M23.5 392V393M24.5 393V394M25.5 394V395M26.5 395V397M27.5 397V398M28.5 398V400M29.5 400V401M30.5 401V403M31.5 403V405M32.5 405V406M33.5 406V408M34.5 408V410M35.5 410V412M36.5 412V414M37.5 414V416M38.5 416V419M39.5 419V422M40.5 422V425M41.5 425V428M42.5 428V431M43.5 431V434M44.5 434V436M45.5 436V438M46.5 438V441M47.5 441V443M48.5 443V446M49.5 446V447M50.5 447V448M51.5 448V450M52.5 450V451M53.5 451V453M54.5 453V454M55.5 453V454M56.5 454V455M57.5 454V455M58.5 455V456M59.5 455V456M60.5 456V457M61.5 455V456M62.5 455V456M63.5 454V455M64.5 454V455M65.5 453V454M66.5 453V454M67.5 452V453M68.5 452V453M69.5 451V452M70.5 450V451M71.5 450V451M72.5 449V450M73.5 448V449M74.5 448V449M75.5 447V448M76.5 447V448M77.5 446V447M78.5 445V446M79.5 444V445M80.5 443V444M81.5 442V443M82.5 441V442M83.5 440V441M84.5 440V441M85.5 439V440M86.5 438V439M87.5 437V438M88.5 436V437M89.5 435V436M90.5 435V436M91.5 435V436M92.5 435V436M93.5 435V436M94.5 435V436M95.5 434V435M96.5 434V435M97.5 434V435M98.5 434V435M99.5 434V435M100.5 434V435M101.5 433V434M102.5 432V433M103.5 431V432M104.5 430V431M105.5 430V431M106.5 430V431M107.5 430V431M108.5 430V431M109.5 430V431M110.5 430V431M111.5 430V431M112.5 431V432M113.5 431V432M114.5 431V432M115.5 431V432M116.5 431V432M117.5 431V432M118.5 432V433M119.5 432V433M120.5 432V433M121.5 432V433M122.5 432V433M123.5 432V433M124.5 433V434M125.5 432V433M126.5 432V433M127.5 432V433M128.5 432V433M129.5 432V433M130.5 432V433M131.5 431V432M132.5 431V432M133.5 431V432M134.5 431V432M135.5 431V432M136.5 431V432M137.5 430V431M138.5 430V431M139.5 430V431M140.5 430V431M141.5 429V430M142.5 429V430M143.5 429V430M144.5 429V430M145.5 429V430M146.5 428V429M147.5 428V429M148.5 428V429M149.5 428V429M150.5 428V429M151.5 427V428M152.5 427V428M153.5 426V427M154.5 426V427M155.5 426V427M156.5 425V426M157.5 425V426M158.5 424V425M159.5 424V425M160.5 424V425M161.5 423V424M162.5 423V424M163.5 422V423M164.5 422V423M165.5 422V423M166.5 421V422M167.5 421V422M168.5 420V421M169.5 420V421M170.5 420V421M171.5 419V420M172.5 418V419M173.5 417V418M174.5 416V417M175.5 415V416M176.5 414V415M177.5 413V414M178.5 412V413M179.5 411V412M180.5 410V411M181.5 409V410M182.5 408V409M183.5 407V408M184.5 406V407M185.5 405V406M186.5 404V405M187.5 403V404M188.5 402V403M189.5 401V402M190.5 399V401M191.5 398V399M192.5 397V398M193.5 396V397M194.5 395V396M195.5 394V395M196.5 393V394M197.5 392V393M198.5 391V392M199.5 390V391M200.5 389V390M201.5 388V389M202.5 387V388M203.5 386V387M204.5 385V386M205.5 384V385M206.5 383V384M207.5 382V383M208.5 381V382M209.5 380V381M210.5 379V380M211.5 378V379M212.5 377V378M213.5 377V378M214.5 376V377M215.5 375V376M216.5 374V375M217.5 373V374M218.5 373V374M219.5 372V373M220.5 371V372M221.5 370V371M222.5 370V371M223.5 369V370M224.5 368V369M225.5 368V369M226.5 368V369M227.5 367V368M228.5 367V368M229.5 367V368M230.5 367V368M231.5 366V367M232.5 366V367M233.5 365V366M234.5 364V365M235.5 363V364M236.5 362V363M237.5 362V363M238.5 362V363M239.5 362V363M240.5 362V363M241.5 363V364M242.5 364V365M243.5 365V367M244.5 367V368M245.5 368V369M246.5 369V370M247.5 369V370M248.5 369V370M249.5 370V371M250.5 370V371M251.5 370V371M252.5 370V371M253.5 370V371M254.5 370V371M255.5 370V371M256.5 370V371M257.5 370V371M258.5 370V371M259.5 370V371M260.5 369V370M261.5 369V370M262.5 369V370M263.5 369V370M264.5 369V370M265.5 369V370M266.5 370V371M267.5 369V370M268.5 369V370M269.5 369V370M270.5 369V370M271.5 369V370M272.5 369V370M273.5 369V370M274.5 369V370M275.5 368V369M276.5 368V369M277.5 368V369M278.5 368V369M279.5 368V369M280.5 368V369M281.5 368V369M282.5 368V369M283.5 368V369M284.5 368V369M285.5 368V369M286.5 368V369M287.5 368V369M288.5 368V369M289.5 369V370M290.5 369V370M291.5 369V370M292.5 370V371M293.5 370V371M294.5 370V371M295.5 371V372M296.5 371V372M297.5 371V372M298.5 372V373M299.5 372V373M300.5 372V373M301.5 372V373M302.5 373V374M303.5 373V374M304.5 373V374M305.5 374V375M306.5 373V374M307.5 373V374M308.5 373V374M309.5 373V374M310.5 372V373M311.5 372V373M312.5 372V373M313.5 373V374M314.5 374V375M315.5 374V375M316.5 375V376M317.5 376V377M318.5 376V377M319.5 377V378M320.5 378V379M321.5 378V379M322.5 378V379M323.5 378V379M324.5 378V379M325.5 378V379M326.5 378V379M327.5 378V379M328.5 378V379M329.5 378V379M330.5 377V378M331.5 377V378M332.5 376V377M333.5 376V377M334.5 376V377M335.5 375V376M336.5 374V376M337.5 373V374M338.5 372V373M339.5 370V372M340.5 369V370M341.5 368V369M342.5 366V368M343.5 364V366M344.5 362V364M345.5 360V362M346.5 358V360M347.5 356V358M348.5 354V356M349.5 353V354M350.5 351V353M351.5 350V351M352.5 348V350M353.5 347V348M354.5 346V347M355.5 344V346M356.5 343V344M357.5 342V343M358.5 341V342M359.5 340V341M360.5 339V340M361.5 338V339M362.5 338V339M363.5 337V338M364.5 337V338M365.5 336V337M366.5 336V337M367.5 335V336M368.5 335V336M369.5 335V336M370.5 335V336M371.5 334V335M372.5 334V335M373.5 332V334M374.5 330V332M375.5 329V330M376.5 327V329M377.5 326V327M378.5 324V326M379.5 323V324M380.5 321V323M381.5 320V321M382.5 318V320M383.5 317V318M384.5 316V317M385.5 315V316M386.5 314V315M387.5 314V315M388.5 313V314M389.5 313V314M390.5 312V313M391.5 312V313M392.5 311V312M393.5 311V312M394.5 310V311M395.5 310V311M396.5 309V310M397.5 309V310M398.5 309V310M399.5 308V309M400.5 308V309M401.5 308V309M402.5 307V308M403.5 307V308M404.5 307V308M405.5 307V308M406.5 307V308M407.5 307V308M408.5 307V308M409.5 307V308M410.5 308V309M411.5 309V310M412.5 309V310M413.5 310V311M414.5 311V312M415.5 311V312M416.5 312V313M417.5 313V314M418.5 313V314M419.5 314V315M420.5 315V316M421.5 315V316M422.5 315V316M423.5 316V317M424.5 316V317M425.5 317V318M426.5 317V318M427.5 318V319M428.5 318V319M429.5 319V320M430.5 320V321M431.5 320V322M432.5 322V323M433.5 323V325M434.5 325V326M435.5 326V328M436.5 328V329M437.5 328V329M438.5 329V330M439.5 329V330M440.5 330V331M441.5 330V331M442.5 329V330M443.5 329V330M444.5 329V330M445.5 329V330M446.5 328V329M447.5 328V329M448.5 327V328M449.5 326V327M450.5 326V327M451.5 325V326M452.5 325V326M453.5 323V325M454.5 321V323M455.5 319V321M456.5 317V319M457.5 315V317M458.5 313V315M459.5 311V313M460.5 310V311M461.5 309V310M462.5 308V309M463.5 306V308M464.5 305V306M465.5 304V305M466.5 303V304M467.5 301V303M468.5 300V301M469.5 299V300M470.5 297V299M471.5 296V297M472.5 295V296M473.5 293V295M474.5 292V293M475.5 291V292M476.5 290V291M477.5 288V290M478.5 287V288M479.5 286V287M480.5 285V286M481.5 284V285M482.5 283V284M483.5 282V283M484.5 282V283M485.5 281V282M486.5 280V281M487.5 280V281M488.5 279V280M489.5 277V279M490.5 276V277M491.5 274V276M492.5 273V274M493.5 271V273M494.5 270V271M495.5 268V270M496.5 266V268M497.5 264V266M498.5 262V264M499.5 260V262M500.5 258V260M501.5 256V258M502.5 254V256M503.5 252V254M504.5 250V252M505.5 248V250M506.5 246V248M507.5 244V246M508.5 241V244M509.5 239V241M510.5 237V239M511.5 235V237M512.5 234V235M513.5 232V234M514.5 231V232M515.5 229V231M516.5 228V229M517.5 227V228M518.5 226V227M519.5 224V226M520.5 223V224M521.5 222V223M522.5 221V222M523.5 220V221M524.5 219V220M525.5 219V220M526.5 218V219M527.5 217V218M528.5 215V217M529.5 214V215M530.5 213V214M531.5 211V213M532.5 210V211M533.5 209V210M534.5 209V210M535.5 208V209M536.5 207V208M537.5 207V208M538.5 207V208M539.5 207V208M540.5 207V208M541.5 207V208M542.5 207V208M543.5 207V208M544.5 208V209M545.5 207V208M546.5 207V208M547.5 207V208M548.5 207V208M549.5 207V208M550.5 207V208M551.5 207V208M552.5 207V208M553.5 207V208M554.5 207V208M555.5 207V208M556.5 206V207M557.5 206V207M558.5 206V207M559.5 206V207M560.5 206V207M561.5 204V206M562.5 203V204M563.5 202V203M564.5 201V202M565.5 199V201M566.5 198V199M567.5 197V198M568.5 196V197M569.5 194V196M570.5 193V194M571.5 192V193M572.5 191V192M573.5 190V191M574.5 191V192M575.5 191V192M576.5 191V192M577.5 191V192M578.5 191V192M579.5 191V192M580.5 191V192M581.5 191V192M582.5 191V192M583.5 191V192M584.5 192V193M585.5 192V193M586.5 192V193M587.5 193V194M588.5 193V194M589.5 194V195M590.5 195V196M591.5 196V197M592.5 197V198M593.5 198V199M594.5 199V200M595.5 200V201M596.5 201V202M597.5 202V203M598.5 203V204M599.5 204V205M600.5 205V206M601.5 205V206M602.5 206V207M603.5 206V207M604.5 207V208M605.5 207V208M606.5 208V209M607.5 208V209M608.5 209V210M609.5 210V211M610.5 211V212M611.5 211V212M612.5 212V213M613.5 213V214M614.5 213V214M615.5 213V214M616.5 214V215M617.5 214V215M618.5 215V216M619.5 215V216M620.5 216V217M621.5 216V217M622.5 217V218M623.5 217V218" fill="none" stroke="#f000f0" stroke-width="1" shape-rendering="crispEdges"/>
<polygon points="57.0,417.1 90.0,395.9 140.0,364.0 240.0,300.2 320.0,249.0 360.0,223.3 440.0,171.9 510.0,126.9 600.0,69.2 609.1,63.9 606.8,60.9 625.4,58.6 616.3,74.6 614.5,71.6 600.0,80.0 510.0,136.1 440.0,179.5 360.0,229.3 320.0,254.1 240.0,304.1 140.0,366.7 90.0,398.0 57.0,418.6" fill="#fa3c3c"/>
<path d="M126.5 528 L126.5 526 L128.5 524.5 L130.5 525 L132 526 L135.5 527.3" fill="none" stroke="#fff" stroke-width="1.2"/>
<rect x="135" y="526.7" width="14" height="1.3" fill="#fff"/>
</svg>
<p class="note">原油目前是多头趋势，目前来看以做多为主，<br>回落做多，强势破位做多，上周五出现有反转<br>迹象，短期不要布局长线原油</p>
<p class="lbl" style="left:602.5px;top:25px;color:#ff4848;">64.77</p>
<p class="lbl" style="left:27px;top:441px;color:#00f0f0;">42.05</p>
</body>
</html>
